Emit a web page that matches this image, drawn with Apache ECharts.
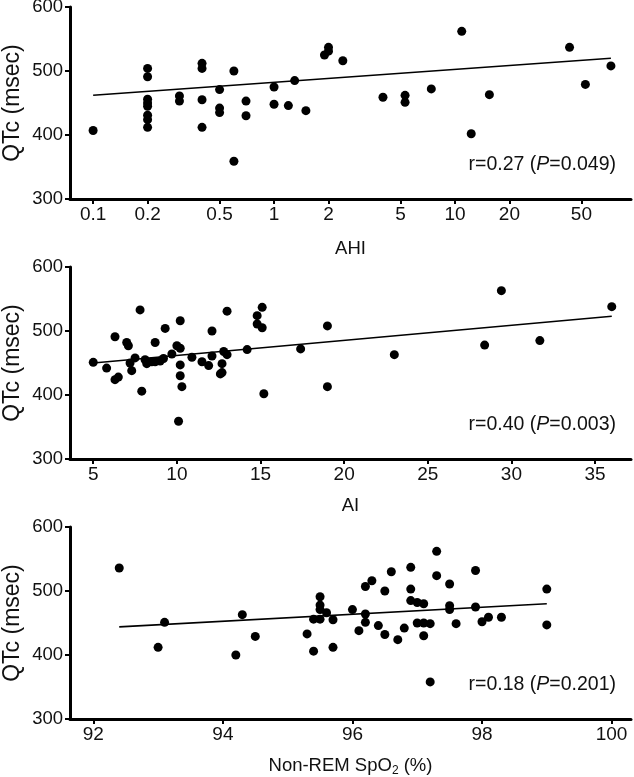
<!DOCTYPE html>
<html>
<head>
<meta charset="utf-8">
<script src="https://cdn.jsdelivr.net/npm/echarts@6/dist/echarts.min.js"></script>
<style>
  html, body { margin: 0; padding: 0; background: #fff; }
  #chart { width: 634px; height: 777px; }
</style>
</head>
<body>
<div id="chart"></div>
<script>
// Panel 1: AHI (log scale) vs QTc
const ahiX = [0.1, 0.2, 0.2, 0.2, 0.2, 0.2, 0.2, 0.2, 0.2, 0.3, 0.3, 0.4, 0.4, 0.4, 0.4,
  0.5, 0.5, 0.5, 0.6, 0.6, 0.7, 0.7, 1, 1, 1.2, 1.3, 1.5, 1.9, 2, 2, 2.4, 4, 5.3, 5.3,
  7.4, 10.9, 12.3, 15.5, 43, 52.6, 72.8];
const ahiQtc = [407, 504, 491, 456, 450, 445, 431, 424, 412, 461, 453, 512, 504, 455, 412,
  471, 442, 435, 500, 359, 453, 430, 475, 448, 446, 485, 438, 525, 537, 531, 516, 459, 462, 451,
  472, 562, 402, 463, 537, 479, 508];
const ahiFitX = [0.1, 72.8];
const ahiFitY = [462, 520];
const ahiTicks = [0.1, 0.2, 0.5, 1, 2, 5, 10, 20, 50];

// Panel 2: AI vs QTc
const aiX = [5, 5.8, 6.3, 6.3, 6.5, 7.0, 7.1, 7.2, 7.3, 7.5, 7.8, 7.9, 8.1, 8.2, 8.5, 8.7, 8.7,
  9.0, 9.2, 9.3, 9.7, 10.0, 10.2, 10.2, 10.2, 10.2, 10.3, 10.1, 10.9, 11.5, 11.9, 12.1, 12.1,
  12.6, 12.7, 12.7, 12.8, 13.0, 13.0, 14.2, 14.8, 14.8, 15.1, 15.1, 15.2, 17.4, 19.0, 19.0,
  23.0, 28.4, 29.4, 31.7, 36.0];
const aiQtc = [451, 442, 491, 424, 428, 482, 477, 450, 438, 458, 533, 406, 455, 449, 452, 482, 452,
  453, 457, 504, 464, 477, 473, 516, 447, 430, 413, 359, 459, 452, 446, 461, 500,
  433, 435, 449, 468, 463, 531, 471, 524, 511, 537, 505, 402, 472, 508, 413,
  463, 478, 563, 485, 538];
const aiFitX = [5, 36];
const aiFitY = [450, 523];
const aiTicks = [5, 10, 15, 20, 25, 30, 35];

// Panel 3: Non-REM SpO2 vs QTc
const spo2X = [92.4, 93.1, 93.0, 94.3, 94.2, 94.5, 95.3, 95.4, 95.4, 95.5, 95.5, 95.5, 95.5, 95.6,
  95.7, 95.7, 96.0, 96.1, 96.2, 96.2, 96.2, 96.3, 96.4, 96.5, 96.5, 96.6, 96.7, 96.8, 96.9, 96.9,
  96.9, 97.0, 97.1, 97.0, 97.1, 97.2, 97.1, 97.2, 97.3, 97.3, 97.5, 97.5, 97.5, 97.6, 97.9, 97.9,
  98.0, 98.1, 98.3, 99.0, 99.0];
const spo2Qtc = [536, 451, 412, 463, 400, 429, 433, 406, 456, 491, 478, 471, 456, 466,
  455, 412, 471, 438, 507, 464, 451, 516, 446, 500, 432, 530, 424, 442, 537, 503,
  485, 482, 480, 450, 450, 449, 430, 358, 562, 524, 511, 477, 471, 449, 532, 475,
  452, 459, 459, 503, 447];
const spo2FitX = [92.4, 99];
const spo2FitY = [444, 480];
const spo2Ticks = [92, 94, 96, 98, 100];

const rLabels = [['r=0.27 (', 'P', '=0.049)'], ['r=0.40 (', 'P', '=0.003)'], ['r=0.18 (', 'P', '=0.201)']];
const xNames = ['AHI', 'AI', '{t|Non-REM SpO}{s|2}{t| (%)}'];

const FONT = "'Liberation Sans', Arial, sans-serif";
const INK = '#111';

const pairs = (xs, ys) => xs.map((x, i) => [x, ys[i]]);

// outerBoundsMode 'none' keeps v6 from shrinking the grid to fit the y-axis name
const grids = [
  { left: 70, right: 3, top: 7, height: 192, outerBoundsMode: 'none' },
  { left: 70, right: 3, top: 267, height: 192, outerBoundsMode: 'none' },
  { left: 70, right: 3, top: 527, height: 192, outerBoundsMode: 'none' }
];

const panels = [
  { type: 'log', min: 0.0745, max: 94, ticks: ahiTicks, x: ahiX, y: ahiQtc, fx: ahiFitX, fy: ahiFitY, gap: 40 },
  { type: 'value', min: 3.61, max: 37.15, ticks: aiTicks, x: aiX, y: aiQtc, fx: aiFitX, fy: aiFitY, gap: 37 },
  { type: 'value', min: 91.64, max: 100.3, ticks: spo2Ticks, x: spo2X, y: spo2Qtc, fx: spo2FitX, fy: spo2FitY, gap: 36 }
];

const xAxes = panels.map((p, i) => ({
  type: p.type,
  logBase: 10,
  gridIndex: i,
  min: p.min,
  max: p.max,
  name: xNames[i],
  nameLocation: 'middle',
  nameGap: p.gap,
  nameMoveOverlap: false,
  nameTextStyle: {
    color: INK, fontFamily: FONT, fontSize: 18.5,
    rich: {
      t: { color: INK, fontFamily: FONT, fontSize: 18.5 },
      s: { color: INK, fontFamily: FONT, fontSize: 12, padding: [10, 0, 0, 0] }
    }
  },
  axisLine: { onZero: false, lineStyle: { color: '#000', width: 3 } },
  axisTick: { length: 5, customValues: p.ticks, lineStyle: { color: '#000', width: 2 } },
  axisLabel: {
    customValues: p.ticks,
    color: INK, fontFamily: FONT, fontSize: 19, margin: 6,
    formatter: v => String(v)
  },
  splitLine: { show: false }
}));

const yAxes = panels.map((p, i) => ({
  type: 'value',
  gridIndex: i,
  min: 300,
  max: 600,
  interval: 100,
  name: 'QTc (msec)',
  nameLocation: 'middle',
  nameRotate: 90,
  nameGap: 46,
  nameMoveOverlap: false,
  nameTextStyle: { color: INK, fontFamily: FONT, fontSize: 23 },
  axisLine: { show: true, lineStyle: { color: '#000', width: 3 } },
  axisTick: { show: true, length: 5, lineStyle: { color: '#000', width: 2 } },
  axisLabel: { color: INK, fontFamily: FONT, fontSize: 18.5, margin: 7 },
  splitLine: { show: false }
}));

const series = [];
panels.forEach((p, i) => {
  series.push({
    type: 'scatter',
    xAxisIndex: i,
    yAxisIndex: i,
    symbolSize: 9,
    itemStyle: { color: '#000', opacity: 1 },
    data: pairs(p.x, p.y)
  });
  series.push({
    type: 'line',
    xAxisIndex: i,
    yAxisIndex: i,
    showSymbol: false,
    silent: true,
    lineStyle: { color: '#000', width: 1.6 },
    data: pairs(p.fx, p.fy)
  });
});

const labelY = [165, 425, 685];
const graphic = rLabels.map((r, i) => ({
  type: 'text',
  x: 616,
  y: labelY[i],
  style: {
    text: '{n|' + r[0] + '}{i|' + r[1] + '}{n|' + r[2] + '}',
    align: 'right',
    verticalAlign: 'middle',
    rich: {
      n: { fontFamily: FONT, fontSize: 19.5, fill: INK },
      i: { fontFamily: FONT, fontSize: 19.5, fontStyle: 'italic', fill: INK }
    }
  }
}));

const chart = echarts.init(document.getElementById('chart'));
chart.setOption({
  animation: false,
  backgroundColor: '#fff',
  grid: grids,
  xAxis: xAxes,
  yAxis: yAxes,
  series: series,
  graphic: graphic
});
</script>
</body>
</html>
